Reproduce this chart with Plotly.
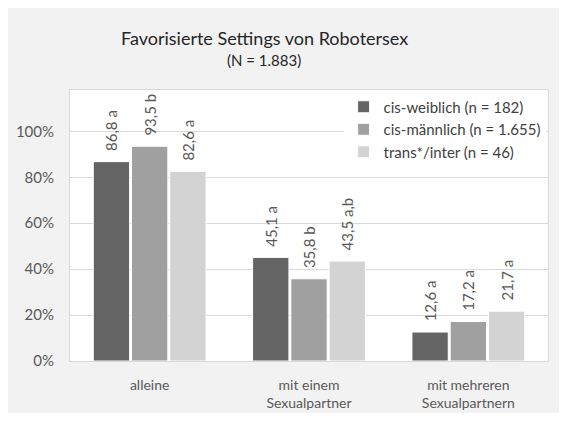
import plotly.graph_objects as go

categories = ["alleine", "mit einem<br>Sexualpartner", "mit mehreren<br>Sexualpartnern"]
series_names = ["cis-weiblich (n = 182)", "cis-männlich (n = 1.655)", "trans*/inter (n = 46)"]
values_cis_w = [86.8, 45.1, 12.6]
values_cis_m = [93.5, 35.8, 17.2]
values_trans = [82.6, 43.5, 21.7]
letters_cis_w = ["a", "a", "a"]
letters_cis_m = ["b", "b", "a"]
letters_trans = ["a", "a,b", "a"]
colors = ["#646464", "#a0a0a0", "#d3d3d3"]
tick_vals = [0, 20, 40, 60, 80, 100]
tick_text = ["0%", "20%", "40%", "60%", "80%", "100%"]

FONT = "Lato"
TXT = "#595959"

def fmt(v, l):
    return "\u00a0\u00a0" + f"{v:.1f}".replace(".", ",") + " " + l

fig = go.Figure()
for name, vals, lets, col in zip(series_names,
                                 [values_cis_w, values_cis_m, values_trans],
                                 [letters_cis_w, letters_cis_m, letters_trans],
                                 colors):
    fig.add_trace(go.Bar(
        x=categories, y=vals, name=name,
        marker=dict(color=col, line=dict(color="white", width=1)),
        text=[fmt(v, l) for v, l in zip(vals, lets)],
        textposition="outside", textangle=-90, constraintext="none",
        textfont=dict(family=FONT, size=15, color=TXT),
        cliponaxis=False,
    ))

# plot area: x 62..540, y 82..353 in figure coords (551x405)
fig.add_annotation(text="Favorisierte Settings von Robotersex", xref="paper", yref="paper",
                   x=(256 - 62) / 478, y=(353 - 30) / 271, xanchor="center", yanchor="middle",
                   showarrow=False, font=dict(family=FONT, size=18, color="#262626"))
fig.add_annotation(text="(N = 1.883)", xref="paper", yref="paper",
                   x=(256 - 62) / 478, y=(353 - 52) / 271, xanchor="center", yanchor="middle",
                   showarrow=False, font=dict(family=FONT, size=15, color="#262626"))

fig.update_layout(
    width=551, height=405,
    margin=dict(l=62, r=11, t=82, b=52),
    paper_bgcolor="#f2f2f2", plot_bgcolor="white",
    barmode="group", bargap=0.28, bargroupgap=0.05,
    font=dict(family=FONT, size=14, color=TXT),
    showlegend=True,
    legend=dict(x=0.995, xanchor="right", y=0.998, yanchor="top",
                bgcolor="white", font=dict(family=FONT, size=15, color="#404040"),
                tracegroupgap=0, itemwidth=30),
    xaxis=dict(showgrid=False, showline=True, linecolor="#d9d9d9", mirror=True,
               automargin=False,
               ticks="", tickfont=dict(family=FONT, size=14, color=TXT), ticklabelstandoff=11),
    yaxis=dict(range=[0, 118], tickvals=tick_vals, ticktext=tick_text,
               automargin=False,
               showgrid=True, gridcolor="#d9d9d9", gridwidth=1, zeroline=False,
               showline=True, linecolor="#d9d9d9", mirror=True, ticks="",
               tickfont=dict(family=FONT, size=15, color=TXT), ticklabelstandoff=12),
)

fig.write_html("out.html")
